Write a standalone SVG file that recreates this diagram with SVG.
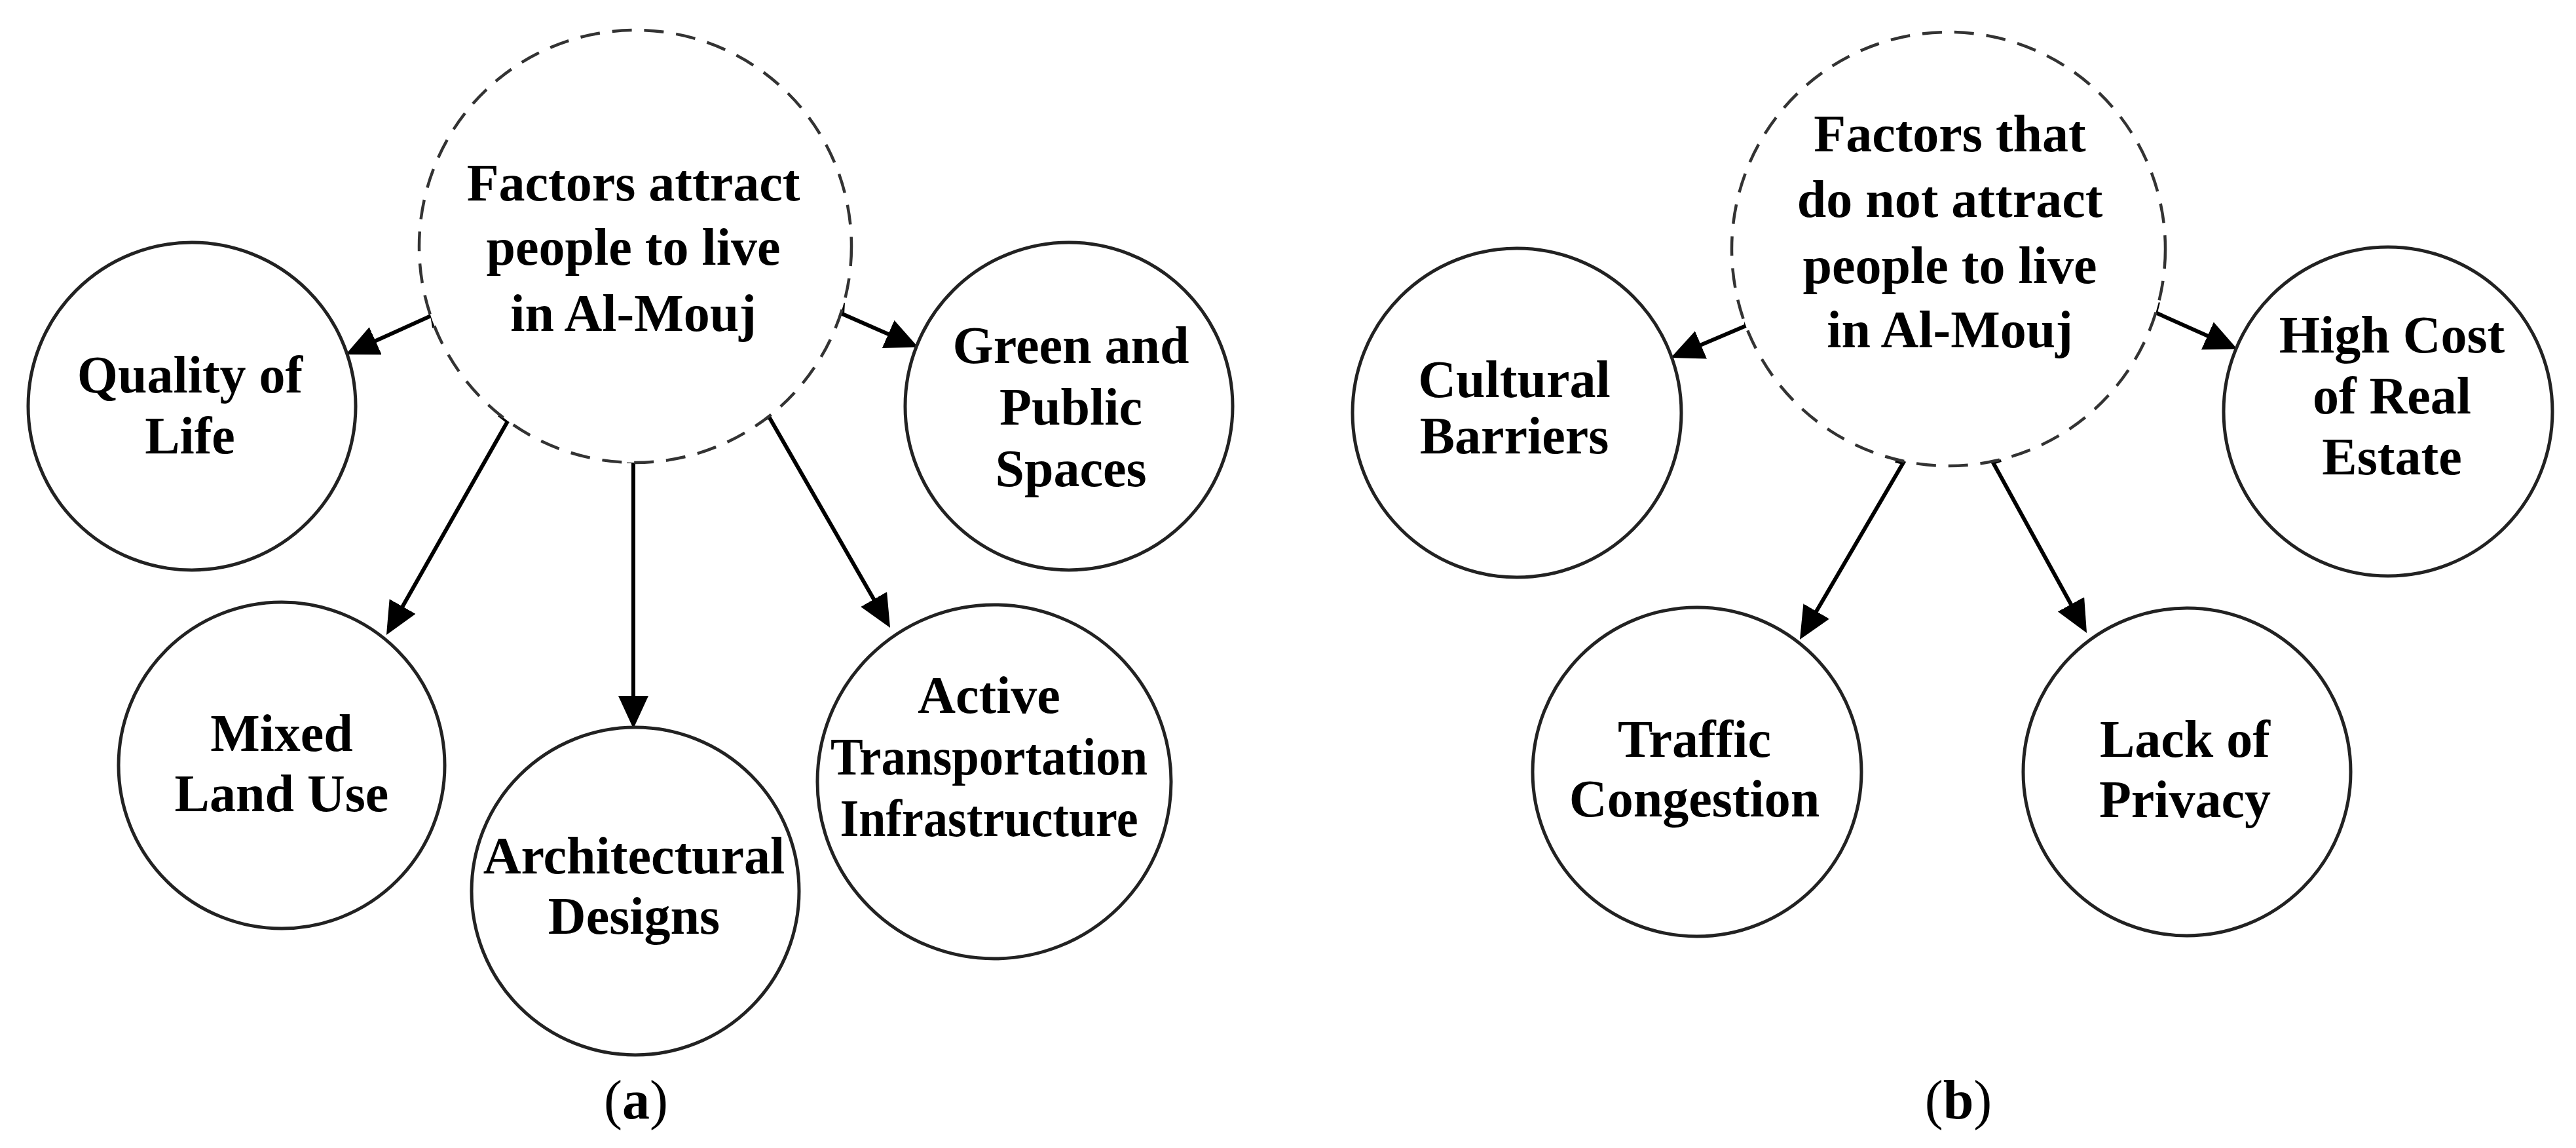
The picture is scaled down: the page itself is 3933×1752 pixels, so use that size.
<svg xmlns="http://www.w3.org/2000/svg" width="3933" height="1752" viewBox="0 0 3933 1752">
<style>
.node{fill:#fff;stroke:#222;stroke-width:5}
.hub{fill:#fff;stroke:#333;stroke-width:4.5;stroke-dasharray:30 19}
.lbl{font-family:"Liberation Serif","Times New Roman",serif;font-weight:bold;font-size:80px;fill:#000;text-anchor:middle}
.cap{font-family:"Liberation Serif","Times New Roman",serif;font-size:84px;fill:#000;text-anchor:middle}
.conn{fill:none;stroke:#000;stroke-width:6}
</style>
<defs>
<marker id="ah" markerUnits="userSpaceOnUse" viewBox="0 0 50 46" refX="8" refY="23" markerWidth="50" markerHeight="46" orient="auto">
<path d="M0,0 L50,23 L0,46 z" fill="#000"/>
</marker>
</defs>
<rect width="3933" height="1752" fill="#fff"/>

<g id="connectors">
<path class="conn" d="M663,500 L660,481 L566,523.6" marker-end="url(#ah)"/>
<path class="conn" d="M762,633 L775,643 L610.7,932.5" marker-end="url(#ah)"/>
<path class="conn" d="M957,704 L977,704 M967,704 L967,1070" marker-end="url(#ah)"/>
<path class="conn" d="M1159,643 L1174,636 L1338.1,921.6" marker-end="url(#ah)"/>
<path class="conn" d="M1287,462 L1286,479 L1363.5,513.1" marker-end="url(#ah)"/>
<path class="conn" d="M2666,486 L2666,497 L2589.6,529.6" marker-end="url(#ah)"/>
<path class="conn" d="M3295,461 L3291,477 L3377.7,515.8" marker-end="url(#ah)"/>
<path class="conn" d="M2894,703 L2906,706 L2769.2,939.8" marker-end="url(#ah)"/>
<path class="conn" d="M3055,702 L3043,706 L3165.8,929.3" marker-end="url(#ah)"/>
</g>

<g id="hub-a">
<circle class="hub" cx="970" cy="376" r="330"/>
<text class="lbl" x="967" y="306">Factors  attract</text>
<text class="lbl" x="967" y="404">people  to  live</text>
<text class="lbl" x="967" y="505">in Al-Mouj</text>
</g>
<g id="quality-of-life">
<circle class="node" cx="293" cy="620" r="250"/>
<text class="lbl" x="290" y="599">Quality of</text>
<text class="lbl" x="290" y="692">Life</text>
</g>
<g id="mixed-land-use">
<circle class="node" cx="430" cy="1168" r="249"/>
<text class="lbl" x="430" y="1146">Mixed</text>
<text class="lbl" x="430" y="1238">Land  Use</text>
</g>
<g id="architectural-designs">
<circle class="node" cx="970" cy="1360" r="250"/>
<text class="lbl" x="968" y="1333">Architectural</text>
<text class="lbl" x="968" y="1425">Designs</text>
</g>
<g id="active-transportation">
<circle class="node" cx="1518" cy="1193" r="270"/>
<text class="lbl" x="1510" y="1088">Active</text>
<text class="lbl" x="1510" y="1182" textLength="484" lengthAdjust="spacingAndGlyphs">Transportation</text>
<text class="lbl" x="1510" y="1276" textLength="455" lengthAdjust="spacingAndGlyphs">Infrastructure</text>
</g>
<g id="green-public-spaces">
<circle class="node" cx="1632" cy="620" r="250"/>
<text class="lbl" x="1635" y="554">Green and</text>
<text class="lbl" x="1635" y="648">Public</text>
<text class="lbl" x="1635" y="742">Spaces</text>
</g>

<g id="hub-b">
<circle class="hub" cx="2975" cy="380" r="331"/>
<text class="lbl" x="2977" y="231">Factors  that</text>
<text class="lbl" x="2977" y="331">do  not attract</text>
<text class="lbl" x="2977" y="432">people  to  live</text>
<text class="lbl" x="2977" y="530">in Al-Mouj</text>
</g>
<g id="cultural-barriers">
<circle class="node" cx="2316" cy="630" r="251"/>
<text class="lbl" x="2312" y="606">Cultural</text>
<text class="lbl" x="2312" y="692">Barriers</text>
</g>
<g id="high-cost-real-estate">
<circle class="node" cx="3646" cy="628" r="251"/>
<text class="lbl" x="3652" y="538">High Cost</text>
<text class="lbl" x="3652" y="631">of Real</text>
<text class="lbl" x="3652" y="724">Estate</text>
</g>
<g id="traffic-congestion">
<circle class="node" cx="2591" cy="1178" r="251"/>
<text class="lbl" x="2587" y="1155">Traffic</text>
<text class="lbl" x="2587" y="1246">Congestion</text>
</g>
<g id="lack-of-privacy">
<circle class="node" cx="3339" cy="1178" r="250"/>
<text class="lbl" x="3336" y="1155">Lack of</text>
<text class="lbl" x="3336" y="1247">Privacy</text>
</g>

<text class="cap" x="971" y="1707">(<tspan font-weight="bold">a</tspan>)</text>
<text class="cap" x="2990" y="1707">(<tspan font-weight="bold">b</tspan>)</text>
</svg>
